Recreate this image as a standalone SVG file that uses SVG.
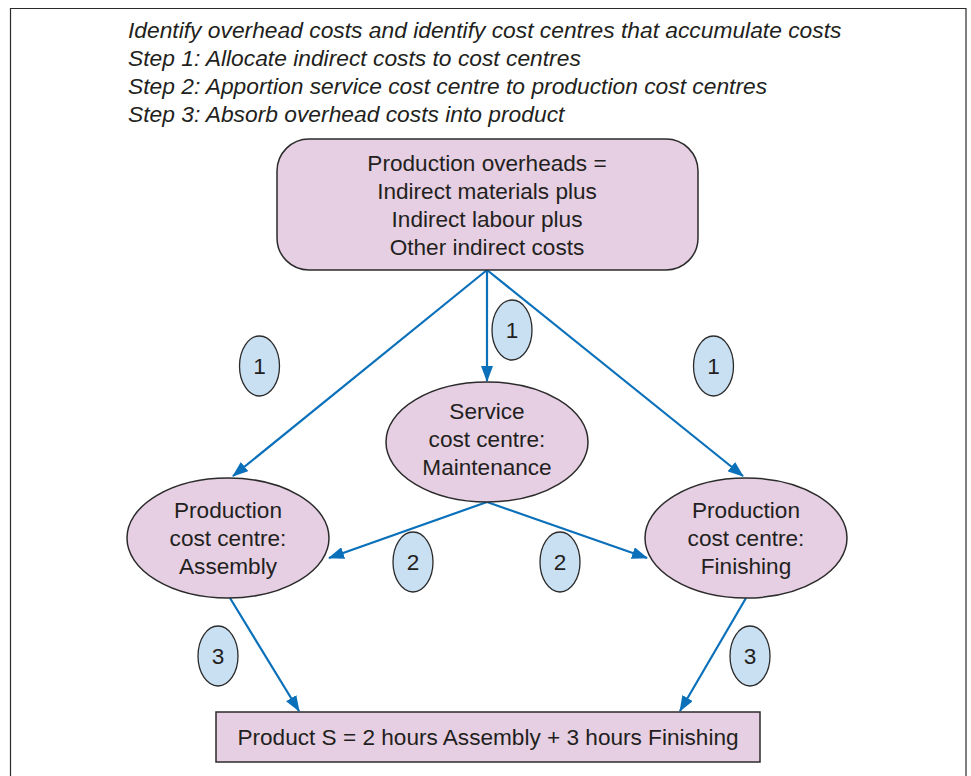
<svg xmlns="http://www.w3.org/2000/svg" width="971" height="776" viewBox="0 0 971 776">
<defs>
<style>
.node{fill:#E6CFE3;stroke:#2b2b2b;stroke-width:1.5}
.lbl{fill:#C9E0F3;stroke:#2b2b2b;stroke-width:1.3}
.t{font-family:"Liberation Sans",Arial,sans-serif;font-size:22.6px;fill:#231F20;text-anchor:middle}
.h{font-family:"Liberation Sans",Arial,sans-serif;font-size:22.8px;fill:#231F20;font-style:italic}
.c{stroke:#0A70BA;stroke-width:2.2;fill:none;marker-end:url(#ah)}
</style>
<marker id="ah" viewBox="0 0 16 12" refX="15" refY="6" markerWidth="16" markerHeight="12" markerUnits="userSpaceOnUse" orient="auto">
<path d="M0,0 L16,6 L0,12 Z" fill="#0A70BA"/>
</marker>
</defs>
<rect x="0" y="0" width="971" height="776" fill="#fff"/>
<path d="M10.5,790 V8.5 H966 V790" fill="none" stroke="#2b2b2b" stroke-width="1.2"/>
<g id="header">
<text class="h" x="128" y="38">Identify overhead costs and identify cost centres that accumulate costs</text>
<text class="h" x="128" y="66">Step 1: Allocate indirect costs to cost centres</text>
<text class="h" x="128" y="94">Step 2: Apportion service cost centre to production cost centres</text>
<text class="h" x="128" y="122">Step 3: Absorb overhead costs into product</text>
</g>
<g id="connectors">
<line class="c" x1="487" y1="270" x2="233" y2="476"/>
<line class="c" x1="487" y1="270" x2="487" y2="381"/>
<line class="c" x1="487" y1="270" x2="743" y2="476"/>
<line class="c" x1="487" y1="502" x2="329" y2="558"/>
<line class="c" x1="487" y1="502" x2="647" y2="558"/>
<line class="c" x1="230" y1="598" x2="299" y2="711"/>
<line class="c" x1="746" y1="598" x2="680" y2="711"/>
</g>
<g id="overheads">
<rect class="node" x="277" y="139" width="421" height="131" rx="32"/>
<text class="t" x="487" y="171">Production overheads =</text>
<text class="t" x="487" y="199">Indirect materials plus</text>
<text class="t" x="487" y="227">Indirect labour plus</text>
<text class="t" x="487" y="255">Other indirect costs</text>
</g>
<g id="service">
<ellipse class="node" cx="487" cy="442" rx="101" ry="60"/>
<text class="t" x="487" y="419">Service</text>
<text class="t" x="487" y="447">cost centre:</text>
<text class="t" x="487" y="475">Maintenance</text>
</g>
<g id="assembly">
<ellipse class="node" cx="228" cy="538" rx="101" ry="60"/>
<text class="t" x="228" y="518">Production</text>
<text class="t" x="228" y="546">cost centre:</text>
<text class="t" x="228" y="574">Assembly</text>
</g>
<g id="finishing">
<ellipse class="node" cx="746" cy="538" rx="101" ry="60"/>
<text class="t" x="746" y="518">Production</text>
<text class="t" x="746" y="546">cost centre:</text>
<text class="t" x="746" y="574">Finishing</text>
</g>
<g id="product">
<rect class="node" x="216" y="712" width="544" height="50"/>
<text class="t" x="488" y="745">Product S = 2 hours Assembly + 3 hours Finishing</text>
</g>
<g id="labels">
<ellipse class="lbl" cx="259.5" cy="366" rx="20" ry="30"/><text class="t" x="259.5" y="374">1</text>
<ellipse class="lbl" cx="512" cy="330" rx="20" ry="30"/><text class="t" x="512" y="338">1</text>
<ellipse class="lbl" cx="713.5" cy="366" rx="20" ry="30"/><text class="t" x="713.5" y="374">1</text>
<ellipse class="lbl" cx="413" cy="562" rx="20" ry="30"/><text class="t" x="413" y="570">2</text>
<ellipse class="lbl" cx="560" cy="562" rx="20" ry="30"/><text class="t" x="560" y="570">2</text>
<ellipse class="lbl" cx="218" cy="656" rx="20" ry="30"/><text class="t" x="218" y="664">3</text>
<ellipse class="lbl" cx="750" cy="656" rx="20" ry="30"/><text class="t" x="750" y="664">3</text>
</g>
</svg>
